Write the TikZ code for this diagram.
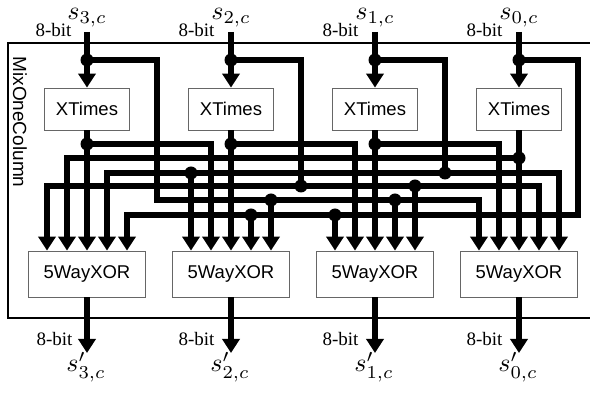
\documentclass[tikz,border=0pt]{standalone}
\usepackage{fontspec}
\newfontfamily\helv{Liberation Sans}
\newfontfamily\tms{Liberation Serif}
\usetikzlibrary{arrows.meta}

\begin{document}
\begin{tikzpicture}[x=1pt, y=-1pt,
    wire/.style={line width=6pt},
    bus/.style={wire, -{Triangle[width=17pt, length=14pt]}},
    dot/.style={circle, fill, inner sep=0pt, minimum size=13pt},
    xbox/.style={draw=black!60, line width=0.8pt, fill=white,
                 minimum width=85pt, minimum height=42pt,
                 font=\fontsize{18.5}{20}\selectfont\helv},
    rbox/.style={xbox, minimum width=117pt, minimum height=46pt},
    bits/.style={anchor=base east, font=\fontsize{19}{20}\selectfont\tms},
    sig/.style={anchor=base, inner sep=0pt}
]
    \useasboundingbox (0,0) rectangle (590,395);

    % ── Cadre du module ──
    \draw[line width=2pt] (592,43) -| (8,318) -- (592,318);
    \node[rotate=-90, font=\fontsize{19}{20}\selectfont\helv] (title) at (20,122) {MixOneColumn};

    % ── XTimes ──
    \node[xbox] (X3) at (87,109)  {XTimes};
    \node[xbox] (X2) at (231,109) {XTimes};
    \node[xbox] (X1) at (375,109) {XTimes};
    \node[xbox] (X0) at (519,109) {XTimes};

    % ── 5WayXOR ──
    \node[rbox] (R3) at (87,274)  {5WayXOR};
    \node[rbox] (R2) at (231,274) {5WayXOR};
    \node[rbox] (R1) at (375,274) {5WayXOR};
    \node[rbox] (R0) at (519,274) {5WayXOR};

    % ── Entrées / sorties ──
    \node[sig] (s3) at (87,20)  {\scalebox{2.6}{$s_{3,c}$}};
    \node[sig] (s2) at (231,20) {\scalebox{2.6}{$s_{2,c}$}};
    \node[sig] (s1) at (375,20) {\scalebox{2.6}{$s_{1,c}$}};
    \node[sig] (s0) at (519,20) {\scalebox{2.6}{$s_{0,c}$}};
    \node[bits] (b3) at (75,37)  {8-bit};
    \node[bits] (b2) at (218,37) {8-bit};
    \node[bits] (b1) at (362,37) {8-bit};
    \node[bits] (b0) at (506,37) {8-bit};
    \coordinate (i3) at (87,32);
    \coordinate (i2) at (231,32);
    \coordinate (i1) at (375,32);
    \coordinate (i0) at (519,32);

    \node[sig] (u3) at (86,372)  {\scalebox{2.6}{$s'_{3,c}$}};
    \node[sig] (u2) at (230,372) {\scalebox{2.6}{$s'_{2,c}$}};
    \node[sig] (u1) at (374,372) {\scalebox{2.6}{$s'_{1,c}$}};
    \node[sig] (u0) at (518,372) {\scalebox{2.6}{$s'_{0,c}$}};
    \node[bits] (c3) at (76,346)  {8-bit};
    \node[bits] (c2) at (218,346) {8-bit};
    \node[bits] (c1) at (362,346) {8-bit};
    \node[bits] (c0) at (506,346) {8-bit};
    \coordinate (o3) at (87,353);
    \coordinate (o2) at (231,353);
    \coordinate (o1) at (375,353);
    \coordinate (o0) at (519,353);

    % ── Points de jonction ──
    \node[dot] (t3) at (87,60)  {};
    \node[dot] (t2) at (231,60) {};
    \node[dot] (t1) at (375,60) {};
    \node[dot] (t0) at (519,60) {};
    \node[dot] (x3) at (87,144)  {};
    \node[dot] (x2) at (231,144) {};
    \node[dot] (x1) at (375,144) {};
    \node[dot] (x0) at (519,158) {};
    \node[dot] (e2) at (301,186) {};
    \node[dot] (f1) at (415,186) {};
    \node[dot] (e1) at (445,173) {};
    \node[dot] (g2) at (191,173) {};
    \node[dot] (a2) at (271,200) {};
    \node[dot] (a1) at (395,200) {};
    \node[dot] (h2) at (251,215) {};
    \node[dot] (h1) at (335,215) {};
    \coordinate (k3) at (157,200);
    \coordinate (k0) at (578,215);

    % ── Entrées vers XTimes, XTimes vers son XOR ──
    \draw[bus] (i3) -- (X3.north);
    \draw[bus] (i2) -- (X2.north);
    \draw[bus] (i1) -- (X1.north);
    \draw[bus] (i0) -- (X0.north);
    \draw[bus] (X3.south) -- (R3.north);
    \draw[bus] (X2.south) -- (R2.north);
    \draw[bus] (X1.south) -- (R1.north);
    \draw[bus] (X0.south) -- (R0.north);

    % ── Sorties XTimes croisées ──
    \draw[bus] (x3.center) -| ([xshift=-20pt]R2.north);
    \draw[bus] (x2.center) -| ([xshift=-20pt]R1.north);
    \draw[bus] (x1.center) -| ([xshift=-20pt]R0.north);
    \draw[bus] (x0.center) -| ([xshift=-20pt]R3.north);

    % ── s3 ──
    \draw[bus] (t3.center) -| (k3) -| ([xshift=-40pt]R0.north);
    \draw[bus] (a2.center) -- ([xshift=40pt]R2.north);
    \draw[bus] (a1.center) -- ([xshift=20pt]R1.north);

    % ── s2 ──
    \draw[wire] (t2.center) -| (e2.center);
    \draw[bus] (e2.center) -| ([xshift=-40pt]R3.north);
    \draw[bus] (e2.center) -| ([xshift=20pt]R0.north);
    \draw[bus] (f1.center) -- ([xshift=40pt]R1.north);

    % ── s1 ──
    \draw[wire] (t1.center) -| (e1.center);
    \draw[bus] (e1.center) -| ([xshift=20pt]R3.north);
    \draw[bus] (e1.center) -| ([xshift=40pt]R0.north);
    \draw[bus] (g2.center) -- ([xshift=-40pt]R2.north);

    % ── s0 ──
    \draw[bus] (t0.center) -| (k0) -| ([xshift=40pt]R3.north);
    \draw[bus] (h2.center) -- ([xshift=20pt]R2.north);
    \draw[bus] (h1.center) -- ([xshift=-40pt]R1.north);

    % ── Sorties ──
    \draw[bus] (R3.south) -- (o3);
    \draw[bus] (R2.south) -- (o2);
    \draw[bus] (R1.south) -- (o1);
    \draw[bus] (R0.south) -- (o0);

\end{tikzpicture}
\end{document}
